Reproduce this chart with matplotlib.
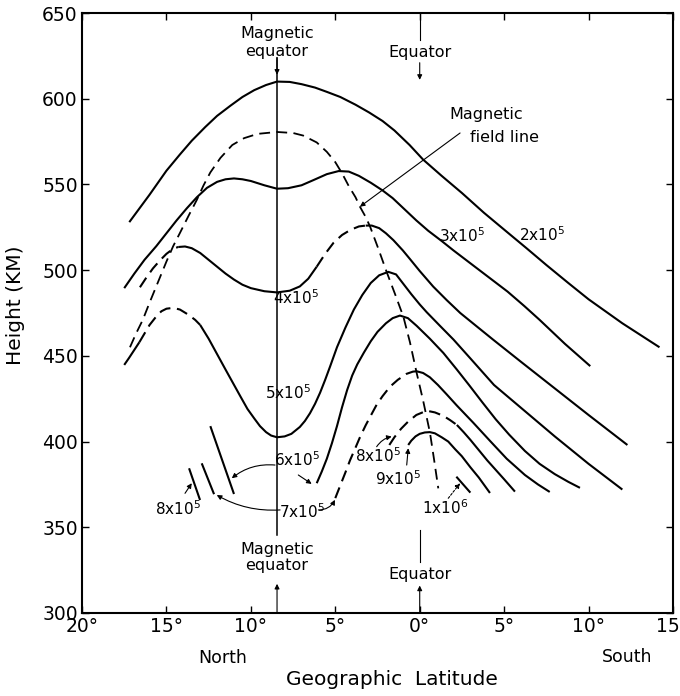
import matplotlib.pyplot as plt

plt.rcParams['font.family'] = 'DejaVu Sans'
plt.rcParams['mathtext.fontset'] = 'dejavusans'

# latitude in degrees (north positive), height in km
c2_lat = [17.2, 16.6, 16.0, 15.5, 15.0, 14.2, 13.5, 12.7, 12.0, 11.2, 10.5, 9.8, 9.1, 8.45, 7.7, 7.0, 6.2, 5.5, 4.7,
          3.8, 3.0, 2.2, 1.5, 0.6, -0.2, -1.3, -2.5, -3.8, -5.2, -6.3, -7.5, -8.8, -10.0, -11.0, -12.0, -13.1, -14.2]
c2_h = [528, 536, 544, 551, 558, 567.5, 575.5, 583.5, 590, 596, 601, 605, 608, 610, 609.8, 608.5, 606.5, 604, 601,
        596.5, 592, 587, 581.5, 573, 564.5, 555, 545, 533.5, 522, 513, 503, 492.5, 483, 476, 469, 462, 455]

c3_lat = [17.5, 16.9, 16.3, 15.6, 15.0, 14.4, 13.8, 13.2, 12.6, 12.0, 11.5, 11.0, 10.5, 10.0, 9.2, 8.45, 7.8, 7.0,
          6.3, 5.5, 4.8, 4.2, 3.6, 2.9, 2.2, 1.6, 0.9, 0.2, -0.5, -1.3, -2.0, -2.8, -4.0, -5.2, -6.2, -7.1, -8.6, -10.1]
c3_h = [489.5, 498, 506, 514, 521.5, 529, 536, 542.5, 548, 551.5, 553, 553.5, 553, 552, 549.5, 547.5, 547.8, 549.5,
        552.5, 556, 557.8, 557.5, 555, 551, 546.5, 542, 535.5, 529, 523, 517, 511.5, 505.5, 496.5, 487.5, 479, 471, 457, 444]

c4_lat = [16.57, 16.2, 15.8, 15.4, 15.0, 14.6, 14.3,
          13.9, 13.5, 13.0, 12.5, 12.0, 11.5, 11.0, 10.5, 10.0, 9.2, 8.45, 7.7, 7.1, 6.6, 6.1,
          5.6, 5.1, 4.6, 4.1, 3.6, 3.2,
          2.84, 2.4, 2.0, 1.56, 1.0, 0.58, 0.0, -0.8, -1.6, -2.4, -3.4, -4.34, -6.0, -8.0, -10.0, -12.3]
c4_h = [490, 495.5, 501, 505.5, 509.5, 512.5, 513.5,
        513.8, 512.8, 510, 506, 502, 498, 494.5, 491.5, 489.5, 487.7, 487, 488, 490.5, 495, 502,
        509.5, 516, 520.5, 523.5, 525.5, 526,
        526, 524.5, 521.5, 517.5, 511.5, 506.5, 499.5, 490.4, 482.5, 475, 467, 459.5, 446.5, 431, 415.5, 398]

c5_lat = [17.5, 17.2, 16.9, 16.6,
          16.3, 16.0, 15.6, 15.3, 15.0, 14.6, 14.2, 13.7, 13.3, 13.0,
          12.5, 12.0, 11.5, 11.05, 10.6, 10.2, 9.8, 9.46, 9.1, 8.8, 8.45, 8.0, 7.6, 7.1, 6.8, 6.5, 6.2, 5.9, 5.6,
          5.3, 4.9, 4.4, 3.9, 3.4, 2.9, 2.4, 1.86, 1.4, 0.97, 0.5, 0.0, -0.41, -1.2, -2.0, -3.0, -4.4, -6.2, -8.0, -10.0, -12.0]
c5_h = [444.7, 449, 453.5, 458,
        463, 468, 473, 476, 477.5, 478, 477, 474, 471, 468,
        460, 451, 442, 434, 426, 419, 413.5, 409, 405.5, 403.5, 402.5, 403, 404.5, 408.5, 412, 416.5, 422, 428.5, 436,
        444, 455, 466.5, 477, 485.5, 492.5, 497, 499, 497.5, 492, 486, 480, 475.5, 467.5, 459.5, 448.5, 433, 418, 403, 387, 372]

c6_lat = [6.1, 5.8, 5.5, 5.2, 4.9, 4.6, 4.3, 4.0, 3.7, 3.3, 2.9, 2.5, 2.0, 1.6, 1.17, 0.7, 0.18, -0.6, -1.4,
          -2.2, -2.92, -3.7, -4.5, -5.3, -6.23, -7.1, -8.0, -8.8, -9.49]
c6_h = [375.7, 382.5, 390, 399, 409, 420, 430, 438.5, 445, 452, 458.5, 464, 469, 472, 473.5, 472, 467.5, 460, 451.7,
        442, 433, 423, 413, 404, 394.5, 387, 381, 376.5, 373]
c6n_lat = [12.4, 11.0]
c6n_h = [409, 369.4]

c7_lat = [5.0, 4.7, 4.4, 4.13, 3.8, 3.54, 3.2, 2.85, 2.55, 2.2, 1.76, 1.3, 0.78, 0.4,
          0.18, -0.2, -0.6, -1.08, -1.6, -2.2, -3.17, -4.2, -5.15, -6.23, -7.0, -7.7]
c7_h = [367, 374.5, 382, 389, 396.5, 402.5, 409.5, 416, 421.5, 426.5, 432, 436, 439.5, 440.8,
        441, 440, 437.5, 433, 427.5, 421, 411, 400, 390, 380.5, 375, 370.6]
c7n_lat = [12.91, 12.18]
c7n_h = [387.3, 369.3]

c8_lat = [1.8, 1.5, 1.1, 0.7, 0.2, -0.41, -0.9, -1.4, -1.8, -2.2,
          -2.6, -3.0, -3.5, -4.0, -4.5, -5.0, -5.64]
c8_h = [398, 402.5, 407.5, 411.5, 415.5, 418, 417, 415, 412.5, 409.7,
        405.5, 401, 395, 389, 383.5, 378, 370.8]
c8n_lat = [13.66, 13.01]
c8n_h = [384.4, 365.9]

c9_lat = [0.68, 0.5, 0.25, 0.0, -0.3, -0.6, -0.9, -1.3, -1.69, -2.1, -2.49, -3.0, -3.5, -4.16]
c9_h = [398, 400.5, 403, 404.5, 405.3, 405.5, 404.8, 402.5, 400, 395.5, 391.5, 385, 379, 370]

c10_lat = [-2.17, -3.0]
c10_h = [379.5, 370.2]

field_lat = [17.16, 16.8, 16.4, 16.0, 15.5, 15.0, 14.6, 14.2, 13.7, 13.2, 12.8, 12.4, 11.8, 11.1, 10.4, 9.6, 8.45,
             7.5, 6.9, 6.1, 5.5, 5.0, 4.6, 4.2, 3.8, 3.54, 3.2, 2.94, 2.45, 1.96, 1.46, 0.97, 0.58, 0.18, -0.2, -0.61,
             -0.85, -1.1]
field_h = [455, 463, 471, 481, 493, 505, 514, 521.7, 531.5, 541, 549.5, 557, 565.5, 573, 577, 579.5, 580.6,
           580, 578.5, 574.5, 569, 563, 556.5, 549, 542.5, 537, 531, 525.4, 512.5, 499, 486, 472.9, 458, 440, 424, 405,
           389.5, 372.7]

mag_eq = 8.45
x_ticks = [20, 15, 10, 5, 0, -5, -10, -15]
x_labels = ['20°', '15°', '10°', '5°', '0°', '5°', '10°', '15°']
y_ticks = [300, 350, 400, 450, 500, 550, 600, 650]

fig = plt.figure(figsize=(6.8, 6.96), dpi=100)
ax = fig.add_axes([0.1206, 0.1193, 0.8691, 0.862])

LW = 1.5
dash = (0, (5.5, 3.2))
k = 'black'

def seg(xs, ys, a, b, style='-', lw=LW):
    ax.plot(xs[a:b], ys[a:b], color=k, lw=lw, linestyle=style, solid_capstyle='butt',
            solid_joinstyle='round')

seg(c2_lat, c2_h, 0, None)
seg(c3_lat, c3_h, 0, None)
seg(c4_lat, c4_h, 0, 7, dash)
seg(c4_lat, c4_h, 6, 22)
seg(c4_lat, c4_h, 21, 28, dash)
seg(c4_lat, c4_h, 27, None)
seg(c5_lat, c5_h, 0, 4)
seg(c5_lat, c5_h, 3, 14, dash)
seg(c5_lat, c5_h, 13, None)
seg(c6_lat, c6_h, 0, None)
seg(c6n_lat, c6n_h, 0, None)
seg(c7_lat, c7_h, 0, 15, dash)
seg(c7_lat, c7_h, 14, None)
seg(c7n_lat, c7n_h, 0, None)
seg(c8_lat, c8_h, 0, 10, dash)
seg(c8_lat, c8_h, 9, None)
seg(c8n_lat, c8n_h, 0, None)
seg(c9_lat, c9_h, 0, None)
seg(c10_lat, c10_h, 0, None)
ax.plot(field_lat, field_h, color=k, lw=1.3, linestyle=(0, (6, 3.5)))

# magnetic equator line
ax.plot([mag_eq, mag_eq], [345.5, 624], color=k, lw=1.1)

def arrow(x0, y0, x1, y1, rad=0.0, ls='-', lw=0.8):
    ax.annotate('', xy=(x1, y1), xytext=(x0, y0),
                arrowprops=dict(arrowstyle='-|>', color=k, lw=lw, linestyle=ls,
                                mutation_scale=7, shrinkA=0, shrinkB=0,
                                connectionstyle='arc3,rad=%s' % rad))

fs_t = 11.5
arrow(mag_eq, 624, mag_eq, 614)
ax.text(mag_eq, 638, 'Magnetic', ha='center', va='center', fontsize=fs_t)
ax.text(mag_eq, 627.5, 'equator', ha='center', va='center', fontsize=fs_t)
ax.text(mag_eq, 337, 'Magnetic', ha='center', va='center', fontsize=fs_t)
ax.text(mag_eq, 327.5, 'equator', ha='center', va='center', fontsize=fs_t)
arrow(mag_eq, 300, mag_eq, 317)

ax.plot([0, 0], [650, 634], color=k, lw=0.8)
ax.text(0, 627, 'Equator', ha='center', va='center', fontsize=fs_t)
arrow(0, 621, 0, 611)
ax.plot([0, 0], [348.4, 329.5], color=k, lw=0.8)
ax.text(0, 322.7, 'Equator', ha='center', va='center', fontsize=fs_t)
arrow(0, 300, 0, 316)

ax.text(-3.96, 591, 'Magnetic', ha='center', va='center', fontsize=fs_t)
ax.text(-5.05, 577.5, 'field line', ha='center', va='center', fontsize=fs_t)
arrow(-2.39, 580, 3.54, 537)

fs_l = 11
labels = [('2x10$^5$', -7.22, 520.5), ('3x10$^5$', -2.53, 520), ('4x10$^5$', 7.33, 483.8),
          ('5x10$^5$', 7.8, 428.3), ('6x10$^5$', 7.24, 389.3), ('7x10$^5$', 6.99, 359.1),
          ('8x10$^5$', 14.3, 361), ('8x10$^5$', 2.47, 391.9), ('9x10$^5$', 1.27, 378.6),
          ('1x10$^6$', -1.5, 361.3)]
for s, x, y in labels:
    ax.text(x, y, s, ha='center', va='center', fontsize=fs_l)

arrow(8.57, 386.3, 11.13, 378.6, rad=0.2)
arrow(7.19, 380.5, 6.4, 375.3)
arrow(8.27, 360.1, 12.02, 368.8, rad=-0.15)
arrow(6.0, 360.1, 5.02, 366, rad=0.3)
arrow(13.9, 369.8, 13.5, 375.7)
arrow(2.55, 397, 1.66, 402.9, rad=-0.2)
arrow(0.77, 386.3, 0.68, 396.1)
arrow(-1.69, 366.9, -2.39, 375.7, ls=(0, (2, 1.5)))

ax.set_xlim(20, -15)
ax.set_ylim(300, 650)
ax.set_xticks(x_ticks)
ax.set_xticklabels(x_labels)
ax.set_yticks(y_ticks)
ax.tick_params(direction='in', length=5, width=1, top=True, right=True, labelsize=13.5, pad=3)
for sp in ax.spines.values():
    sp.set_linewidth(1.5)

ax.text(11.65, 273.7, 'North', ha='center', va='center', fontsize=12.5, clip_on=False)
ax.text(-12.27, 274.3, 'South', ha='center', va='center', fontsize=12.5, clip_on=False)
ax.text(1.67, 261, 'Geographic  Latitude', ha='center', va='center', fontsize=14.5, clip_on=False)
ax.text(-0.112, 479.7, 'Height (KM)', rotation=90, ha='center', va='center', fontsize=14.5,
        transform=ax.get_yaxis_transform())

fig.savefig('out.png', dpi=100)
